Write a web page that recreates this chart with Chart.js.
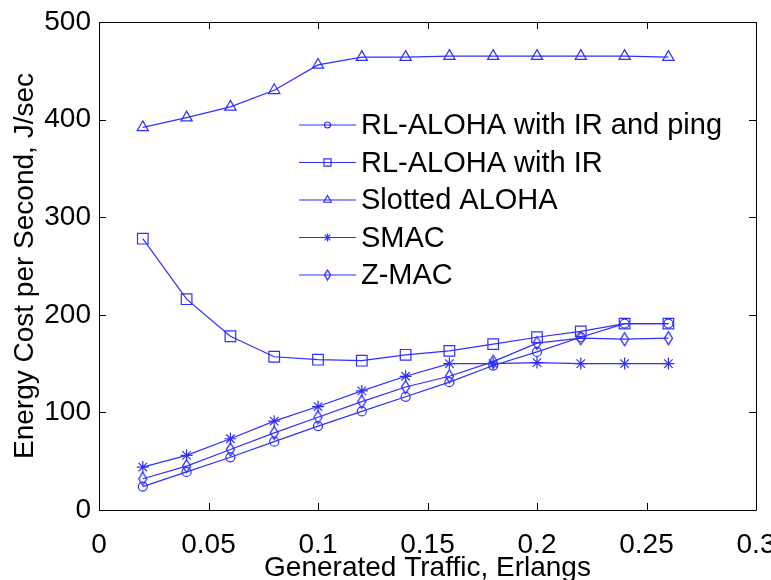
<!DOCTYPE html>
<html>
<head>
<meta charset="utf-8">
<script src="https://cdn.jsdelivr.net/npm/chart.js@4.4.1/dist/chart.umd.min.js"></script>
<style>
  html, body { margin: 0; padding: 0; background: #fff; }
  #wrap { width: 771px; height: 580px; }
</style>
</head>
<body>
<div id="wrap"><canvas id="grafica"></canvas></div>
<script>
// datos
var trafico = [0.02, 0.04, 0.06, 0.08, 0.10, 0.12, 0.14, 0.16, 0.18, 0.20, 0.22, 0.24, 0.26];
var rl_ir_ping = [24, 39, 54, 70, 86, 101, 116, 131, 148, 162, 177, 191, 191];
var rl_ir = [278, 216, 178, 157, 154, 153, 159, 163, 170, 177, 183, 191, 191];
var slotted = [392, 402, 413, 430, 456, 464, 464, 465, 465, 465, 465, 465, 464];
var smac = [44, 56, 73, 91, 106, 122, 137, 150, 150, 151, 150, 150, 150];
var zmac = [32, 45, 62, 79, 95, 111, 126, 137, 152, 171, 176, 175, 176];

var nombres = ['RL-ALOHA with IR and ping', 'RL-ALOHA with IR', 'Slotted ALOHA', 'SMAC', 'Z-MAC'];
var ticks_x = [0, 0.05, 0.1, 0.15, 0.2, 0.25, 0.3];
var ticks_y = [0, 100, 200, 300, 400, 500];

var azul = '#2f2fff';
var fuente = '"Liberation Sans", Arial, sans-serif';

// diamante angosto tipo matlab
function hacerDiamante(w, h) {
    var c = document.createElement('canvas');
    c.width = w + 3; c.height = h + 3;
    var g = c.getContext('2d');
    g.strokeStyle = azul;
    g.lineWidth = 1.4;
    g.beginPath();
    g.moveTo(c.width / 2, 1.5);
    g.lineTo(c.width - 1.5, c.height / 2);
    g.lineTo(c.width / 2, c.height - 1.5);
    g.lineTo(1.5, c.height / 2);
    g.closePath();
    g.stroke();
    return c;
}
var diamante = hacerDiamante(8, 13);
var diamanteChico = hacerDiamante(6, 10);

function serie(idx, valores, estilo, radio) {
    var pts = [];
    for (var i = 0; i < trafico.length; i++) pts.push({x: trafico[i], y: valores[i]});
    return {
        label: nombres[idx],
        data: pts,
        borderColor: azul,
        backgroundColor: 'rgba(0,0,0,0)',
        borderWidth: 1.2,
        pointStyle: estilo,
        pointRadius: radio,
        pointBorderColor: azul,
        pointBackgroundColor: 'rgba(0,0,0,0)',
        pointBorderWidth: 1.2,
        tension: 0
    };
}

var datasets = [
    serie(0, rl_ir_ping, 'circle', 4.5),
    serie(1, rl_ir, 'rect', 7.5),
    serie(2, slotted, 'triangle', 6.5),
    serie(3, smac, 'star', 6),
    serie(4, zmac, diamante, 6)
];

// caja y marcas hacia adentro + leyenda
var cajaPlugin = {
    id: 'caja',
    afterDatasetsDraw: function(chart) {
        var ctx = chart.ctx;
        var a = chart.chartArea;
        var sx = chart.scales.x, sy = chart.scales.y;
        ctx.save();
        ctx.strokeStyle = '#000';
        ctx.lineWidth = 1;
        ctx.beginPath();
        ctx.rect(Math.round(a.left) + 0.5, Math.round(a.top) + 0.5, Math.round(a.right - a.left), Math.round(a.bottom - a.top));
        var L = 7;
        ticks_x.forEach(function(v) {
            var px = Math.round(sx.getPixelForValue(v)) + 0.5;
            ctx.moveTo(px, a.bottom); ctx.lineTo(px, a.bottom - L);
            ctx.moveTo(px, a.top); ctx.lineTo(px, a.top + L);
        });
        ticks_y.forEach(function(v) {
            var py = Math.round(sy.getPixelForValue(v)) + 0.5;
            ctx.moveTo(a.left, py); ctx.lineTo(a.left + L, py);
            ctx.moveTo(a.right, py); ctx.lineTo(a.right - L, py);
        });
        ctx.stroke();

        // leyenda
        var x0 = 299, x1 = 356, y0 = 125, paso = 37.5;
        ctx.font = '29px ' + fuente;
        ctx.textBaseline = 'middle';
        ctx.textAlign = 'left';
        var estilos = ['circle', 'rect', 'triangle', 'star', diamanteChico];
        var radios = [3, 5, 4.5, 4, 5];
        for (var i = 0; i < nombres.length; i++) {
            var y = y0 + i * paso;
            ctx.strokeStyle = azul;
            ctx.fillStyle = 'rgba(0,0,0,0)';
            ctx.lineWidth = 1.2;
            ctx.beginPath();
            ctx.moveTo(x0, y); ctx.lineTo(x1, y);
            ctx.stroke();
            Chart.helpers.drawPoint(ctx, {pointStyle: estilos[i], radius: radios[i], borderWidth: 1.2, rotation: 0}, (x0 + x1) / 2, y);
            ctx.fillStyle = '#000';
            ctx.fillText(nombres[i], 361, y + 1);
        }
        ctx.restore();
    }
};

var grafica = new Chart(document.getElementById('grafica'), {
    type: 'line',
    data: { datasets: datasets },
    options: {
        responsive: true,
        maintainAspectRatio: false,
        animation: false,
        layout: { padding: { top: 22, right: 15, left: 0, bottom: 0 } },
        plugins: { legend: { display: false }, tooltip: { enabled: false } },
        scales: {
            x: {
                type: 'linear',
                min: 0, max: 0.3,
                afterBuildTicks: function(s) { s.ticks = ticks_x.map(function(v) { return {value: v}; }); },
                afterFit: function(s) { s.height = 70; s.paddingLeft = 0; s.paddingRight = 0; },
                grid: { display: false, drawTicks: false },
                border: { display: false },
                ticks: {
                    color: '#000', padding: 18, maxRotation: 0, autoSkip: false,
                    font: { family: fuente, size: 28 },
                    callback: function(v) { return String(Math.round(v * 100) / 100); }
                },
                title: {
                    display: true, text: 'Generated Traffic, Erlangs', color: '#000',
                    font: { family: fuente, size: 28 }, padding: { top: 0, bottom: -5 }
                }
            },
            y: {
                min: 0, max: 500,
                afterBuildTicks: function(s) { s.ticks = ticks_y.map(function(v) { return {value: v}; }); },
                afterFit: function(s) { s.width = 99; s.paddingTop = 0; s.paddingBottom = 0; },
                grid: { display: false, drawTicks: false },
                border: { display: false },
                ticks: {
                    color: '#000', padding: 8,
                    font: { family: fuente, size: 28 }
                },
                title: {
                    display: true, text: 'Energy Cost per Second, J/sec', color: '#000',
                    font: { family: fuente, size: 28 }, padding: { top: 8, bottom: 0 }
                }
            }
        }
    },
    plugins: [cajaPlugin]
});
</script>
</body>
</html>
